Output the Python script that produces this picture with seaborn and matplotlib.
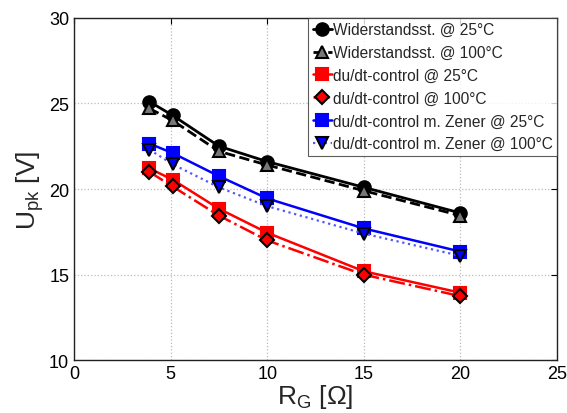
import matplotlib
matplotlib.use("Agg")
import matplotlib.pyplot as plt
import seaborn as sns
import pandas as pd

rg = [3.9, 5.1, 7.5, 10, 15, 20]
wid_25 = [25.1, 24.3, 22.5, 21.6, 20.1, 18.6]
wid_100 = [24.7, 24.0, 22.2, 21.4, 19.9, 18.45]
dudt_25 = [21.2, 20.55, 18.85, 17.45, 15.2, 13.95]
dudt_100 = [21.0, 20.15, 18.45, 17.0, 15.0, 13.75]
zener_25 = [22.65, 22.1, 20.75, 19.45, 17.7, 16.35]
zener_100 = [22.3, 21.45, 20.1, 19.0, 17.4, 16.1]
labels = ["Widerstandsst. @ 25°C", "Widerstandsst. @ 100°C",
          "du/dt-control @ 25°C", "du/dt-control @ 100°C",
          "du/dt-control m. Zener @ 25°C", "du/dt-control m. Zener @ 100°C"]
xticks = [0, 5, 10, 15, 20, 25]
yticks = [10, 15, 20, 25, 30]

sns.set_style("white")
plt.rcParams['font.family'] = ['Liberation Sans', 'DejaVu Sans']

fig = plt.figure(figsize=(5.67, 4.14), dpi=100)
ax = fig.add_axes([0.1305, 0.127, 0.852, 0.828])

series = [wid_25, wid_100, dudt_25, dudt_100, zener_25, zener_100]
styles = [
    dict(color="black", ls="-", marker="o", mfc="black", mec="black", lw=2.0),
    dict(color="black", ls="--", marker="^", mfc="#777777", mec="black", lw=2.0),
    dict(color="red", ls="-", marker="s", mfc="red", mec="red", lw=1.8),
    dict(color="red", ls="-.", marker="D", mfc="red", mec="black", lw=1.8, ms=7.5),
    dict(color="blue", ls="-", marker="s", mfc="blue", mec="blue", lw=1.8),
    dict(color="#5555ff", ls=":", marker="v", mfc="blue", mec="black", lw=1.6),
]
for vals, lab, st in zip(series, labels, styles):
    df = pd.DataFrame({"RG": rg, "U": vals})
    ms = st.pop("ms", 9)
    mfc = st.pop("mfc"); mec = st.pop("mec")
    sns.lineplot(data=df, x="RG", y="U", ax=ax, label=lab, color=st["color"],
                 linestyle=st["ls"], linewidth=st["lw"], marker=st["marker"],
                 markersize=ms, markerfacecolor=mfc, markeredgecolor=mec,
                 markeredgewidth=1.5)

ax.set_xlim(0, 25)
ax.set_ylim(10, 30)
ax.set_xticks(xticks)
ax.set_yticks(yticks)
ax.grid(True, color="#bbbbbb", linestyle=":", linewidth=0.9)
for s in ax.spines.values():
    s.set_color("#222222")
    s.set_linewidth(1.0)
ax.tick_params(direction="in", length=4, labelsize=13, top=True, right=True,
               colors="black")
ax.set_xlabel(r"R$_\mathregular{G}$ [Ω]", fontsize=19, labelpad=0)
ax.set_ylabel(r"U$_\mathregular{pk}$ [V]", fontsize=19, labelpad=2)

leg = ax.legend(loc="upper right", borderaxespad=0, fontsize=11.2, frameon=True,
                fancybox=False, edgecolor="#333333", handlelength=1.2,
                handletextpad=0.05, labelspacing=0.5, borderpad=0.3)
leg.get_frame().set_linewidth(0.8)

fig.savefig("out.png", dpi=100)
